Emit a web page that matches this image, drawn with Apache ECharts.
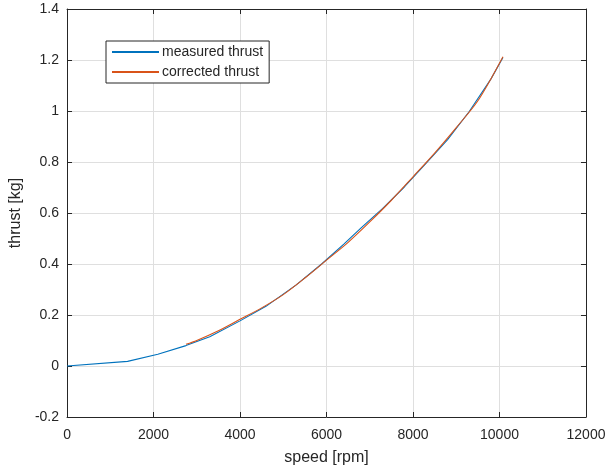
<!DOCTYPE html>
<html>
<head>
<meta charset="utf-8">
<script src="https://cdn.jsdelivr.net/npm/echarts@6/dist/echarts.min.js"></script>
<style>
  html, body { margin: 0; padding: 0; background: #fff; }
  #main { width: 609px; height: 471px; }
</style>
</head>
<body>
<div id="main"></div>
<script>
// measured thrust (rpm, kg)
const measuredSpeed = [0, 1400, 2100, 2750, 3300, 4000, 4600, 5300, 5900, 6400, 6800, 7300, 7800, 8300, 8800, 9300, 9800, 10080]
const measuredThrust = [0, 0.018, 0.046, 0.080, 0.115, 0.177, 0.234, 0.318, 0.402, 0.478, 0.542, 0.618, 0.702, 0.795, 0.888, 0.998, 1.125, 1.21]
// corrected thrust
const correctedSpeed = [2750, 3000, 3500, 4000, 4500, 5000, 5500, 6000, 6500, 7000, 7500, 8000, 8500, 9000, 9500, 10080]
const correctedThrust = [0.085, 0.100, 0.138, 0.183, 0.228, 0.280, 0.345, 0.415, 0.485, 0.565, 0.650, 0.742, 0.835, 0.935, 1.040, 1.213]
const seriesNames = ['measured thrust', 'corrected thrust']

const font = '"Liberation Sans", Arial, sans-serif'
const axisColor = '#262626'

const zip = (xs, ys) => xs.map((x, i) => [x, ys[i]])

const chartBox = echarts.init(document.getElementById('main'))

// 两侧都画轴线和刻度（像 MATLAB 的 box on）
const xBase = {
  type: 'value',
  min: 0,
  max: 12000,
  interval: 2000,
  axisLine: { onZero: false, lineStyle: { color: axisColor, width: 1 } },
  axisTick: { inside: true, length: 5, lineStyle: { color: axisColor } }
}
const yBase = {
  type: 'value',
  min: -0.2,
  max: 1.4,
  interval: 0.2,
  axisLine: { onZero: false, lineStyle: { color: axisColor, width: 1 } },
  axisTick: { inside: true, length: 5, lineStyle: { color: axisColor } }
}

const option = {
  backgroundColor: '#fff',
  animation: false,
  grid: { left: 66, top: 9, right: 23, bottom: 54 },
  legend: {
    orient: 'vertical',
    left: 106,
    top: 41,
    padding: [4, 6, 4, 6],
    itemGap: 6,
    itemWidth: 47,
    itemHeight: 2,
    icon: 'rect',
    backgroundColor: '#fff',
    borderColor: axisColor,
    borderWidth: 1,
    borderRadius: 0,
    textStyle: { fontFamily: font, fontSize: 14, color: '#262626', padding: [0, 0, 0, -2] },
    data: seriesNames
  },
  xAxis: [
    Object.assign({}, xBase, {
      position: 'bottom',
      name: 'speed [rpm]',
      nameLocation: 'middle',
      nameGap: 33,
      nameTextStyle: { fontFamily: font, fontSize: 16, color: '#262626' },
      axisLabel: { fontFamily: font, fontSize: 14, color: '#262626', margin: 11, formatter: v => String(v) },
      splitLine: { show: true, lineStyle: { color: '#dfdfdf', width: 1 } }
    }),
    Object.assign({}, xBase, {
      position: 'top',
      axisLabel: { show: false },
      splitLine: { show: false }
    })
  ],
  yAxis: [
    Object.assign({}, yBase, {
      position: 'left',
      name: 'thrust [kg]',
      nameLocation: 'middle',
      nameGap: 40,
      nameTextStyle: { fontFamily: font, fontSize: 16, color: '#262626' },
      axisLabel: {
        fontFamily: font, fontSize: 14, color: '#262626', margin: 8,
        formatter: v => String(Math.round(v * 10) / 10)
      },
      splitLine: { show: true, lineStyle: { color: '#dfdfdf', width: 1 } }
    }),
    Object.assign({}, yBase, {
      position: 'right',
      axisLabel: { show: false },
      splitLine: { show: false }
    })
  ],
  series: [
    {
      name: seriesNames[0],
      type: 'line',
      xAxisIndex: 0,
      yAxisIndex: 0,
      showSymbol: false,
      symbol: 'none',
      lineStyle: { color: '#0072BD', width: 1.1 },
      itemStyle: { color: '#0072BD' },
      data: zip(measuredSpeed, measuredThrust)
    },
    {
      name: seriesNames[1],
      type: 'line',
      xAxisIndex: 0,
      yAxisIndex: 0,
      showSymbol: false,
      symbol: 'none',
      smooth: 0.3,
      lineStyle: { color: '#D95319', width: 1.1 },
      itemStyle: { color: '#D95319' },
      data: zip(correctedSpeed, correctedThrust)
    }
  ]
}

chartBox.setOption(option)
</script>
</body>
</html>
